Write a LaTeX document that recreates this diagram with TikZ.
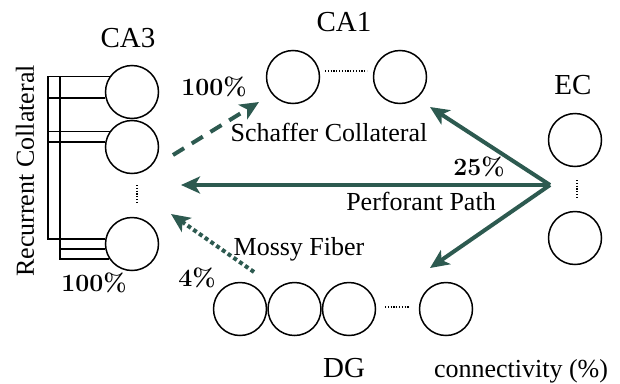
\documentclass[tikz,border=0pt]{standalone}
\usepackage[no-math]{fontspec}
\setmainfont{Liberation Serif}
\usetikzlibrary{arrows.meta}
\definecolor{teal}{RGB}{45,90,80}
\begin{document}
\begin{tikzpicture}[x=1pt,y=-1pt,
  neuron/.style={circle,draw,line width=1.5pt,minimum size=53pt,inner sep=0pt},
  region/.style={font=\fontsize{29}{30}\selectfont},
  lbl/.style={font=\fontsize{26}{27}\selectfont},
  pct/.style={font=\fontsize{24}{25}\selectfont\boldmath},
  wire/.style={line width=1.7pt},
  dots/.style={line width=1.3pt,dash pattern=on 1.2pt off 1.6pt},
  path/.style={draw=teal,line width=4pt,-{Stealth[length=19pt,width=17pt,inset=5pt]}},
]
\useasboundingbox (0,0) rectangle (620,383);
% CA3
\node[neuron] (ca3a) at (132,92) {};
\node[neuron] (ca3b) at (132,147) {};
\node[neuron] (ca3c) at (132,244) {};
\coordinate (ca3d1) at (137,185);
\coordinate (ca3d2) at (137,203);
\draw[dots] (ca3d1) -- (ca3d2);
\node[region] (ca3t) at (128,38) {CA3};
% recurrent collateral
\coordinate (L) at (48,0);
\coordinate (M) at (60,0);
\draw[wire] (ca3a.145.5) -- (ca3a.145.5 -| L) -- (ca3c.169 -| L) -- (ca3c.169);
\draw[wire] (ca3a.145.5 -| M) -- (ca3c.214.5 -| M) -- (ca3c.214.5);
\draw[wire] (ca3a.193 -| L) -- (ca3a.193);
\draw[wire] (ca3b.145.5 -| L) -- (ca3b.145.5);
\draw[wire] (ca3b.169 -| L) -- (ca3b.169);
\draw[wire] (ca3c.191 -| M) -- (ca3c.191);
\node[lbl,rotate=90] (rc) at (25,171) {Recurrent Collateral};
% CA1
\node[neuron] (ca1a) at (293,77) {};
\node[neuron] (ca1b) at (400,77) {};
\coordinate (ca1d1) at (325,71);
\coordinate (ca1d2) at (367,71);
\draw[dots] (ca1d1) -- (ca1d2);
\node[region] (ca1t) at (344,22) {CA1};
% EC
\node[neuron] (eca) at (575,140) {};
\node[neuron] (ecb) at (575,238) {};
\coordinate (ecd1) at (577,180);
\coordinate (ecd2) at (577,198);
\draw[dots] (ecd1) -- (ecd2);
\node[region] (ect) at (573,85) {EC};
% DG
\node[neuron] (dga) at (240,309) {};
\node[neuron] (dgb) at (294.5,309) {};
\node[neuron] (dgc) at (349,309) {};
\node[neuron] (dgd) at (446,309) {};
\coordinate (dgd1) at (385,307);
\coordinate (dgd2) at (410,307);
\draw[dots] (dgd1) -- (dgd2);
\node[region] (dgt) at (344,368) {DG};
% pathways
\coordinate (hub) at (550,185);
\coordinate (toca1) at (430,107);
\coordinate (toca3) at (181,185);
\coordinate (todg) at (430,268);
\draw[path] (hub) -- (toca1);
\draw[path] (hub) -- (toca3);
\draw[path] (hub) -- (todg);
\coordinate (scs) at (173,155);
\coordinate (sce) at (259,102);
\draw[path,dash pattern=on 13pt off 9pt] (scs) -- (sce);
\coordinate (mfs) at (254,272);
\coordinate (mfe) at (171,214);
\draw[path,line width=4pt,dash pattern=on 4pt off 3pt] (mfs) -- (mfe);
% labels
\node[lbl] (sct) at (329,132) {Schaffer Collateral};
\node[lbl] (ppt) at (421,201) {Perforant Path};
\node[lbl] (mft) at (299,249) {Mossy Fiber};
\node[lbl] (cnt) at (521,371) {connectivity (\%)};
\node[pct] (p1) at (214,87) {$\mathbf{100}\%$};
\node[pct] (p2) at (94,283) {$\mathbf{100}\%$};
\node[pct] (p3) at (197,278) {$\mathbf{4}\%$};
\node[pct] (p4) at (479,167) {$\mathbf{25}\%$};
\end{tikzpicture}
\end{document}
